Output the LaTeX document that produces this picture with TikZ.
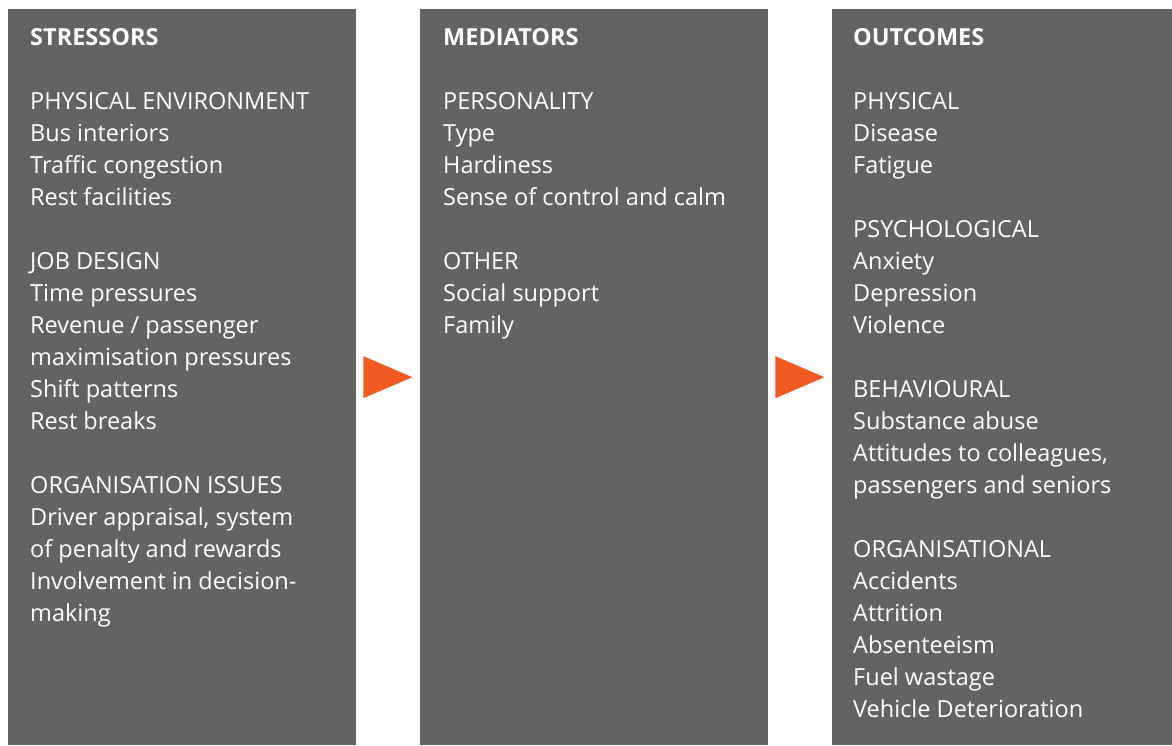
\documentclass[tikz,border=0pt]{standalone}
\usepackage{fontspec}
\setmainfont{Open Sans}
\usetikzlibrary{positioning,calc}
\definecolor{panelgrey}{RGB}{99,98,100}
\definecolor{pointerorange}{RGB}{241,90,34}

\begin{document}
\begin{tikzpicture}[x=1pt, y=-1pt,
    panel/.style={fill=panelgrey, draw=none, anchor=north west, inner sep=0pt,
      minimum width=348pt, minimum height=736pt},
    column/.style={anchor=north west, inner sep=0pt, align=left, text=white,
      font=\fontsize{23.5}{32}\selectfont},
    pointer/.style={fill=pointerorange}]
    \useasboundingbox (0,0) rectangle (1172,745);
    % Grey panels
    \node[panel] (stress) at (8,9) {};
    \node[panel] (med) at (420,9) {};
    \node[panel, minimum width=340pt] (out) at (832,9) {};
    % Column texts
    \node[column] (stresstxt) at (30,28) {\textbf{STRESSORS}\\[32pt]
      PHYSICAL ENVIRONMENT\\ Bus interiors\\ Traffic congestion\\ Rest facilities\\[32pt]
      JOB DESIGN\\ Time pressures\\ Revenue / passenger\\ maximisation pressures\\
      Shift patterns\\ Rest breaks\\[32pt]
      ORGANISATION ISSUES\\ Driver appraisal, system\\ of penalty and rewards\\
      Involvement in decision-\\ making};
    \node[column] (medtxt) at (443,28) {\textbf{MEDIATORS}\\[32pt]
      PERSONALITY\\ Type\\ Hardiness\\ Sense of control and calm\\[32pt]
      OTHER\\ Social support\\ Family};
    \node[column] (outtxt) at (853,28) {\textbf{OUTCOMES}\\[32pt]
      PHYSICAL\\ Disease\\ Fatigue\\[32pt]
      PSYCHOLOGICAL\\ Anxiety\\ Depression\\ Violence\\[32pt]
      BEHAVIOURAL\\ Substance abuse\\ Attitudes to colleagues,\\ passengers and seniors\\[32pt]
      ORGANISATIONAL\\ Accidents\\ Attrition\\ Absenteeism\\ Fuel wastage\\ Vehicle Deterioration};
    % Orange pointers
    \fill[pointer] ($(stress.east)+(7,-21)$) -- ($(stress.east)+(7,21)$) -- ($(stress.east)+(56,0)$) -- cycle;
    \fill[pointer] ($(med.east)+(7,-21)$) -- ($(med.east)+(7,21)$) -- ($(med.east)+(56,0)$) -- cycle;
\end{tikzpicture}
\end{document}
